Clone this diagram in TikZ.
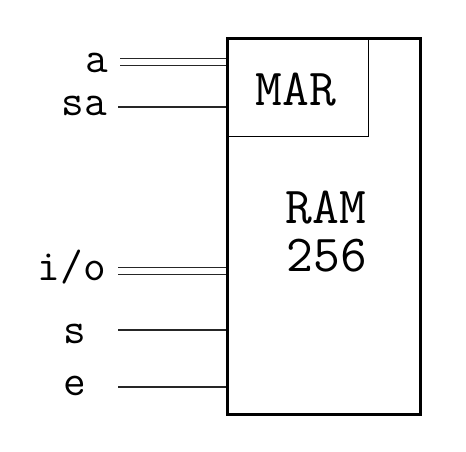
\documentclass[tikz,border=0pt]{standalone}
\usepackage{fontspec}
\begin{document}
\begin{tikzpicture}[x=1pt,y=-1pt,
  lbl/.style={font=\ttfamily\fontsize{44}{44}\selectfont, inner sep=0pt, anchor=base east},
  big/.style={font=\ttfamily\fontsize{52}{52}\selectfont, inner sep=0pt, anchor=base},
  wire/.style={line width=1.4pt, draw=black!85},
  bus/.style={line width=1.3pt, draw=black!85, double=white, double distance=6pt}
]
\useasboundingbox (0,0) rectangle (466,452);
% boxes
\node[draw, line width=2.6pt, minimum width=193pt, minimum height=376pt, inner sep=0pt, anchor=north west] (ram) at (226,37) {};
\node[draw, line width=1.2pt, minimum width=142pt, minimum height=99pt, inner sep=0pt, anchor=north west] (mar) at (226,37) {};
% texts
\node[big] (martext) at (296,105) {MAR};
\node[big] (ramtext) at (326,223) {RAM};
\node[big] (sizetext) at (327,271) {256};
% labels
\node[lbl] (la) at (108,73) {a};
\node[lbl] (lsa) at (107,115) {sa};
\node[lbl] (lio) at (106,280) {i/o};
\node[lbl] (ls) at (86,343) {s};
\node[lbl] (le) at (86,395) {e};
% wire ends
\coordinate (ca) at (120,62);
\coordinate (csa) at (118,107);
\coordinate (cio) at (118,271);
\coordinate (cs) at (118,330);
\coordinate (ce) at (118,387);
\draw[bus] (ca) -- (ram.west |- ca);
\draw[wire] (csa) -- (ram.west |- csa);
\draw[bus] (cio) -- (ram.west |- cio);
\draw[wire] (cs) -- (ram.west |- cs);
\draw[wire] (ce) -- (ram.west |- ce);
\end{tikzpicture}
\end{document}
